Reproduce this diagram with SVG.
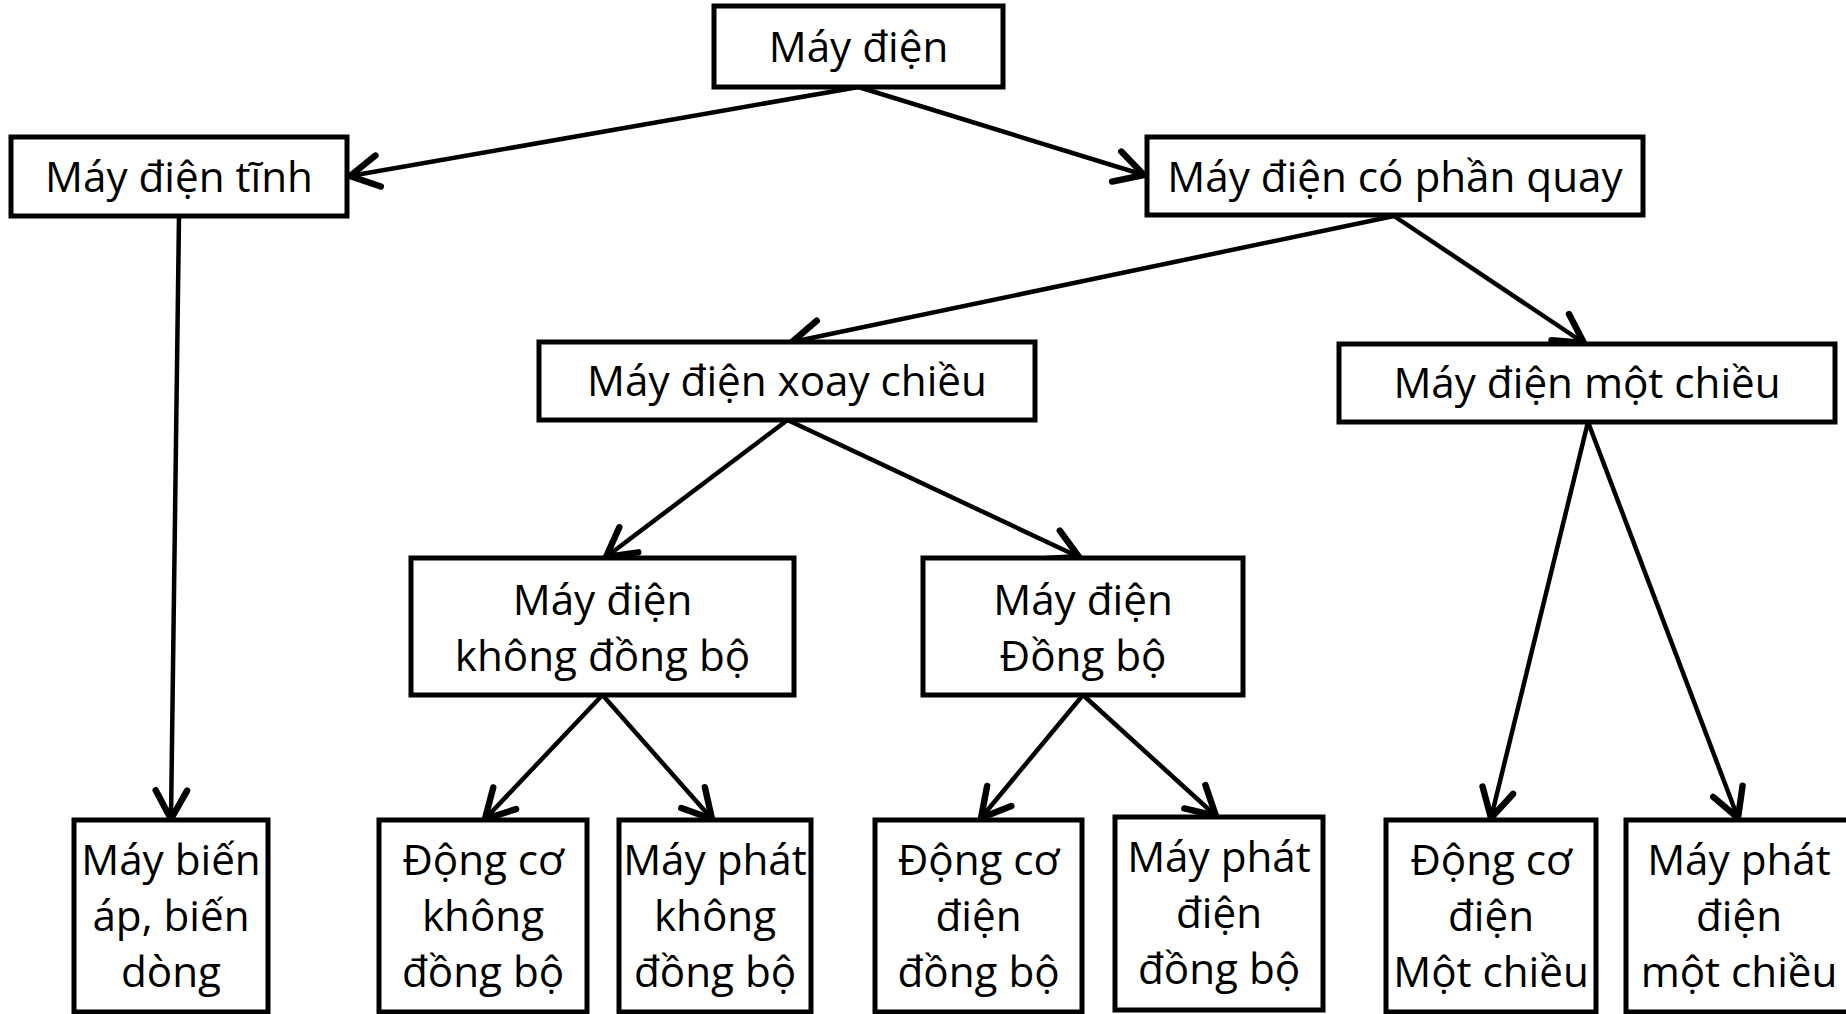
<svg xmlns="http://www.w3.org/2000/svg" width="1846" height="1014" viewBox="0 0 1846 1014">
<defs>
<style>
.box{fill:#fff;stroke:#000;stroke-width:5}
.t{font-family:"Open Sans","Liberation Sans",sans-serif;font-size:42.2px;fill:#000;text-anchor:middle}
.c{fill:none;stroke:#000;stroke-width:4.5;marker-end:url(#ah)}
</style>
<marker id="ah" markerUnits="userSpaceOnUse" markerWidth="40" markerHeight="40" viewBox="-24 -14 28 28" refX="0" refY="0" orient="auto">
<path d="M-20,-11 L0,0 L-20,11" fill="none" stroke="#000" stroke-width="4.5" stroke-linecap="round" stroke-linejoin="miter"/>
</marker>
</defs>
<rect width="1846" height="1014" fill="#fff"/>
<g id="connectors">
<line class="c" x1="858.5" y1="87" x2="350" y2="176"/>
<line class="c" x1="858.5" y1="87" x2="1144" y2="175"/>
<line class="c" x1="1394" y1="216" x2="792" y2="342"/>
<line class="c" x1="1394" y1="216" x2="1584" y2="343"/>
<line class="c" x1="179" y1="216" x2="171" y2="819"/>
<line class="c" x1="787.5" y1="420" x2="606" y2="557"/>
<line class="c" x1="787.5" y1="420" x2="1079" y2="557"/>
<line class="c" x1="602.5" y1="695" x2="485" y2="819"/>
<line class="c" x1="602.5" y1="695" x2="712" y2="819"/>
<line class="c" x1="1083" y1="695" x2="981" y2="818"/>
<line class="c" x1="1083" y1="695" x2="1216" y2="816"/>
<line class="c" x1="1588" y1="422" x2="1491" y2="818"/>
<line class="c" x1="1588" y1="422" x2="1738" y2="818"/>
</g>
<g id="n1"><rect class="box" x="714" y="6" width="289" height="81"/><text class="t" x="858.5" y="62">Máy điện</text></g>
<g id="n2"><rect class="box" x="11" y="137" width="336" height="79"/><text class="t" x="179" y="192">Máy điện tĩnh</text></g>
<g id="n3"><rect class="box" x="1147" y="137" width="496" height="78"/><text class="t" x="1395" y="192">Máy điện có phần quay</text></g>
<g id="n4"><rect class="box" x="539" y="342" width="496" height="78"/><text class="t" x="787" y="396">Máy điện xoay chiều</text></g>
<g id="n5"><rect class="box" x="1339" y="344" width="496" height="78"/><text class="t" x="1587" y="398">Máy điện một chiều</text></g>
<g id="n6"><rect class="box" x="411" y="558" width="383" height="137"/><text class="t" x="602.5" y="615">Máy điện</text><text class="t" x="602.5" y="671">không đồng bộ</text></g>
<g id="n7"><rect class="box" x="923" y="558" width="320" height="137"/><text class="t" x="1083" y="615">Máy điện</text><text class="t" x="1083" y="671">Đồng bộ</text></g>
<g id="n8"><rect class="box" x="74" y="820" width="194" height="192"/><text class="t" x="171" y="875">Máy biến</text><text class="t" x="171" y="931">áp, biến</text><text class="t" x="171" y="987">dòng</text></g>
<g id="n9"><rect class="box" x="379" y="820" width="208" height="192"/><text class="t" x="483" y="875">Động cơ</text><text class="t" x="483" y="931">không</text><text class="t" x="483" y="987">đồng bộ</text></g>
<g id="n10"><rect class="box" x="619" y="820" width="192" height="192"/><text class="t" x="715" y="875">Máy phát</text><text class="t" x="715" y="931">không</text><text class="t" x="715" y="987">đồng bộ</text></g>
<g id="n11"><rect class="box" x="875" y="820" width="207" height="192"/><text class="t" x="978.5" y="875">Động cơ</text><text class="t" x="978.5" y="931">điện</text><text class="t" x="978.5" y="987">đồng bộ</text></g>
<g id="n12"><rect class="box" x="1115" y="817" width="208" height="193"/><text class="t" x="1219" y="872">Máy phát</text><text class="t" x="1219" y="928">điện</text><text class="t" x="1219" y="984">đồng bộ</text></g>
<g id="n13"><rect class="box" x="1386" y="820" width="210" height="192"/><text class="t" x="1491" y="875">Động cơ</text><text class="t" x="1491" y="931">điện</text><text class="t" x="1491" y="987">Một chiều</text></g>
<g id="n14"><rect class="box" x="1626" y="820" width="226" height="192"/><text class="t" x="1739" y="875">Máy phát</text><text class="t" x="1739" y="931">điện</text><text class="t" x="1739" y="987">một chiều</text></g>
</svg>
